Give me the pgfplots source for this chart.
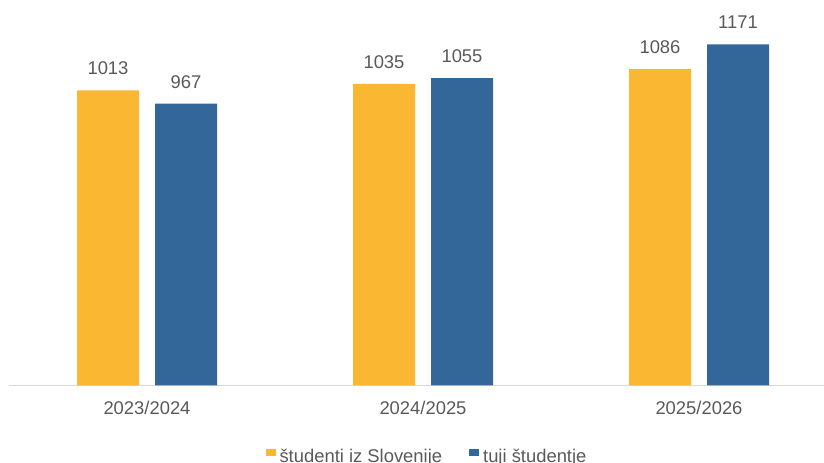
\documentclass[border=0pt]{standalone}
\usepackage{pgfplots}
\pgfplotsset{compat=1.18}
\usepackage{fontspec}
\setmainfont{Liberation Sans}
\definecolor{cOrange}{HTML}{FAB731}
\definecolor{cBlue}{HTML}{336699}
\definecolor{cText}{HTML}{595959}
\definecolor{cAxis}{HTML}{D9D9D9}
\newcommand{\lblfont}{\fontsize{18.4bp}{22bp}\selectfont}
\begin{document}
\begin{tikzpicture}
\useasboundingbox (0,0) rectangle (824bp,463bp);
\begin{axis}[
  at={(9bp,77.7bp)}, anchor=south west,
  scale only axis, width=828bp, height=385.3bp,
  xmin=-0.5, xmax=2.5, ymin=0, ymax=1323,
  axis x line*=bottom, axis y line=none,
  x axis line style={draw=cAxis, line width=1bp, -},
  xtick={0,1,2}, xticklabels={2023/2024,2024/2025,2025/2026},
  major tick length=0pt,
  xticklabel style={font=\lblfont, text=cText, anchor=base, yshift=-29.7bp},
  ytick=\empty,
  clip=false,
  ybar=16bp,
  bar width=62bp,
  nodes near coords,
  nodes near coords style={font=\lblfont, text=cText, anchor=base, yshift=15.5bp},
  /pgf/number format/1000 sep={},
  /pgf/number format/assume math mode=true,
  legend columns=2,
  legend style={draw=none, fill=none, inner sep=0pt, font=\lblfont, text=cText,
    at={(0.5036,-0.2053)}, anchor=south,
    nodes={inner sep=0pt},
    /tikz/every odd column/.append style={column sep=4bp},
    /tikz/every even column/.append style={column sep=27bp}},
  legend image code/.code={\fill[#1] (0bp,0.3bp) rectangle (10bp,8bp);},
]
\addplot[fill=cOrange, draw=none] coordinates {(0,1013) (1,1035) (2,1086)};
\addplot[fill=cBlue, draw=none] coordinates {(0,967) (1,1055) (2,1171)};
\legend{študenti iz Slovenije, tuji študentje}
\end{axis}
\end{tikzpicture}
\end{document}
